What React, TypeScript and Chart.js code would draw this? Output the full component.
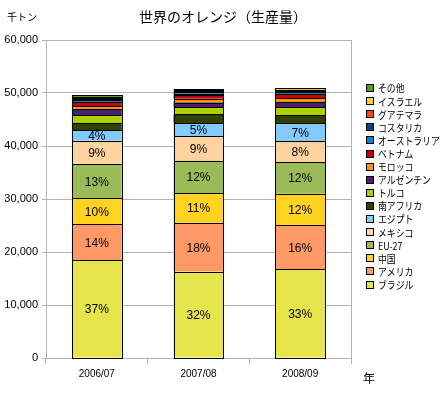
import React, { useEffect, useRef } from "react";
import { Chart, registerables } from "chart.js";

Chart.register(...registerables);

const categories = ["2006/07", "2007/08", "2008/09"];

// values in 千トン, bottom of stack first
const seriesNames = [
  "ブラジル", "アメリカ", "中国", "EU-27", "メキシコ", "エジプト", "南アフリカ", "トルコ",
  "アルゼンチン", "モロッコ", "ベトナム", "オーストラリア", "コスタリカ", "グアテマラ", "イスラエル", "その他",
];
const brazil = [18400, 16300, 16700];
const usa = [6900, 9200, 8300];
const china = [4800, 5600, 6000];
const eu27 = [6500, 6100, 5900];
const mexico = [4400, 4600, 4000];
const egypt = [2000, 2500, 3400];
const southAfrica = [1350, 1700, 1500];
const turkey = [1450, 1300, 1500];
const argentina = [1150, 900, 1000];
const morocco = [600, 700, 750];
const vietnam = [750, 650, 700];
const australia = [350, 350, 350];
const costaRica = [200, 250, 250];
const guatemala = [200, 200, 150];
const israel = [150, 150, 150];
const others = [400, 250, 250];

const seriesValues = [
  brazil, usa, china, eu27, mexico, egypt, southAfrica, turkey,
  argentina, morocco, vietnam, australia, costaRica, guatemala, israel, others,
];
const seriesColors = [
  "#E6E64C", "#FF9966", "#FFD320", "#9BBB59", "#FFD39F", "#83CAFF", "#314004", "#AECF00",
  "#4B1F6F", "#FF950E", "#C5000B", "#0084D1", "#004586", "#FF420E", "#FFD320", "#579D1C",
];
const labelledSeries = 6;
const yTicks = [0, 10000, 20000, 30000, 40000, 50000, 60000];

const titleText = "世界のオレンジ（生産量）";
const unitText = "千トン";
const xUnitText = "年";
const cjkFont = '"Noto Sans CJK JP", sans-serif';
const latinFont = '"Liberation Sans", Arial, sans-serif';

function drawCompressed(ctx: CanvasRenderingContext2D, text: string, x: number, y: number, factor: number) {
  const w = ctx.measureText(text).width;
  ctx.fillText(text, x, y, w * factor);
}

const decorPlugin = {
  id: "decor",
  afterDatasetsDraw(chart: any) {
    const ctx: CanvasRenderingContext2D = chart.ctx;
    ctx.save();
    // crisp 1px outlines of every segment
    ctx.strokeStyle = "#000";
    ctx.lineWidth = 1;
    chart.data.datasets.forEach((_ds: any, d: number) => {
      chart.getDatasetMeta(d).data.forEach((el: any) => {
        const left = Math.round(el.x - el.width / 2);
        const right = Math.round(el.x + el.width / 2);
        const top = Math.round(Math.min(el.y, el.base));
        const bottom = Math.round(Math.max(el.y, el.base));
        ctx.strokeRect(left + 0.5, top + 0.5, right - left, bottom - top);
      });
    });

    ctx.font = `12px ${latinFont}`;
    ctx.fillStyle = "#000";
    ctx.textAlign = "center";
    ctx.textBaseline = "middle";
    const n = chart.data.labels.length;
    for (let i = 0; i < n; i++) {
      let total = 0;
      chart.data.datasets.forEach((ds: any) => (total += ds.data[i]));
      for (let d = 0; d < labelledSeries; d++) {
        const el = chart.getDatasetMeta(d).data[i];
        const v = chart.data.datasets[d].data[i];
        const pct = Math.round((v / total) * 100);
        ctx.fillText(pct + "%", el.x, (el.y + el.base) / 2 + 1);
      }
    }
    ctx.restore();
  },
  afterDraw(chart: any) {
    const ctx: CanvasRenderingContext2D = chart.ctx;
    const area = chart.chartArea;
    ctx.save();
    // right border of plot
    ctx.strokeStyle = "#b3b3b3";
    ctx.lineWidth = 1;
    ctx.beginPath();
    ctx.moveTo(Math.round(area.right) + 0.5, area.top);
    ctx.lineTo(Math.round(area.right) + 0.5, area.bottom);
    ctx.stroke();

    ctx.fillStyle = "#000";
    ctx.textBaseline = "middle";
    // title
    ctx.font = `14px ${cjkFont}`;
    ctx.textAlign = "center";
    ctx.fillText(titleText, 223, 17);
    // unit
    ctx.font = `10px ${cjkFont}`;
    ctx.textAlign = "left";
    ctx.fillText(unitText, 7, 17);
    // x unit
    ctx.font = `12px ${cjkFont}`;
    ctx.fillText(xUnitText, 363, 378);

    // legend (reversed)
    const ds = chart.data.datasets;
    const count = ds.length;
    for (let k = 0; k < count; k++) {
      const d = ds[count - 1 - k];
      const cy = 88 + k * 13.1;
      ctx.fillStyle = d.backgroundColor;
      ctx.fillRect(366, Math.round(cy - 4), 8, 8);
      ctx.strokeStyle = "#000";
      ctx.strokeRect(366.5, Math.round(cy - 4) + 0.5, 7, 7);
      ctx.fillStyle = "#000";
      ctx.font = `10.5px ${cjkFont}`;
      ctx.textAlign = "left";
      drawCompressed(ctx, d.label, 378, cy + 0.5, 0.84);
    }
    ctx.restore();
  },
};

export default function App() {
  const ref = useRef<HTMLCanvasElement | null>(null);
  useEffect(() => {
    if (!ref.current) return;
    const chart = new Chart(ref.current, {
      type: "bar",
      data: {
        labels: categories,
        datasets: seriesNames.map((name, i) => ({
          label: name,
          data: seriesValues[i],
          backgroundColor: seriesColors[i],
          borderWidth: 0,
          barPercentage: 0.49,
          categoryPercentage: 1,
        })),
      },
      options: {
        responsive: false,
        animation: false,
        locale: "en-US",
        layout: { padding: { left: 0, top: 40, right: 94, bottom: 0 } },
        plugins: {
          legend: { display: false },
          title: { display: false },
          tooltip: { enabled: false },
        },
        scales: {
          x: {
            stacked: true,
            offset: true,
            grid: {
              offset: true,
              drawOnChartArea: false,
              drawTicks: true,
              tickLength: 6,
              color: "#b3b3b3",
            },
            border: { color: "#b3b3b3" },
            ticks: { color: "#000", font: { family: latinFont, size: 10 }, padding: 4, maxRotation: 0 },
            afterFit: (s: any) => {
              s.height = 35;
            },
          },
          y: {
            stacked: true,
            min: 0,
            max: 60000,
            afterBuildTicks: (s: any) => {
              s.ticks = yTicks.map((v) => ({ value: v }));
            },
            grid: { color: "#b3b3b3", tickLength: 4 },
            border: { color: "#b3b3b3" },
            ticks: { color: "#000", font: { family: latinFont, size: 11 }, padding: 4 },
            afterFit: (s: any) => {
              s.width = 46;
            },
          },
        },
      },
      plugins: [decorPlugin],
    } as any);
    return () => chart.destroy();
  }, []);
  return (
    <div style={{ position: "absolute", left: 0, top: 0, width: 445, height: 393, background: "#fff" }}>
      <canvas ref={ref} width={445} height={393} />
    </div>
  );
}
